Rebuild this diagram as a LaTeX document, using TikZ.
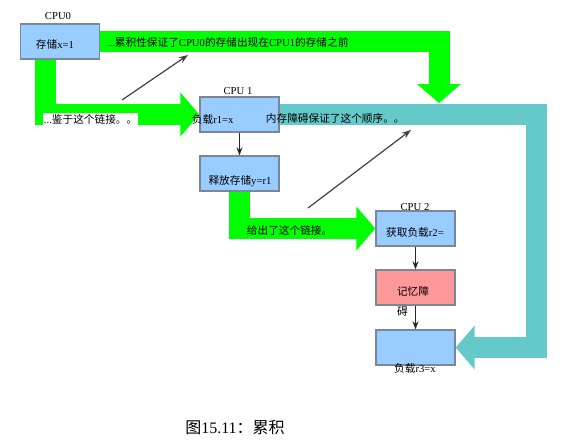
\documentclass[tikz,border=0pt]{standalone}
\usepackage{fontspec}
\setmainfont{Liberation Serif}
\newfontfamily\cjk{Noto Sans CJK SC}
\newcommand{\zh}[1]{{\cjk #1}}
\usetikzlibrary{arrows.meta,calc,backgrounds}
\definecolor{boxblue}{RGB}{153,204,255}
\definecolor{boxpink}{RGB}{255,153,153}
\definecolor{boxline}{RGB}{122,134,154}
\definecolor{lgreen}{RGB}{0,255,0}
\definecolor{lteal}{RGB}{102,201,201}

\begin{document}
\begin{tikzpicture}[x=0.75pt,y=0.75pt,yscale=-1,xscale=1,
  box/.style={draw=boxline,line width=1pt,fill=boxblue,minimum width=59.25pt,minimum height=26.25pt,inner sep=0pt},
  lbl/.style={inner sep=0.5pt,font=\fontsize{8}{15}\selectfont},
  gband/.style={draw=lgreen,line width=15.75pt,line join=miter,-{Triangle[width=32.25pt,length=14.25pt]}},
  tband/.style={draw=lteal,line width=15.75pt,line join=miter,-{Triangle[width=32.25pt,length=14.25pt]}},
  flow/.style={draw=black!85,line width=0.9pt,-{Stealth[length=6pt,width=4.5pt]}},
  link/.style={draw=black!75,line width=0.9pt,-{Stealth[length=7pt,width=5pt]}}]
\useasboundingbox (0,0) rectangle (569,446);

% boxes
\node[box] (c0) at (60,41.5) {};
\node[box] (c1) at (239.5,114.5) {};
\node[box] (rel) at (239.5,173.5) {};
\node[box] (c2) at (415.5,228.5) {};
\node[box,fill=boxpink] (mb) at (415.5,287.5) {};
\node[box] (ld) at (415.5,347.5) {};

% wide bands behind the boxes
\coordinate (g1) at (439,103);
\coordinate (t1) at (536.5,347.5);
\begin{scope}[on background layer]
\draw[gband] (c0.east) -| (g1);
\draw[gband] ($(c0.south)+(-15,0)$) |- (c1.west);
\draw[gband] (rel.south) |- (c2.west);
\draw[tband] (c1.east) -| (t1) -- (ld.east);
\end{scope}

% box arrows
\draw[flow] (c1) -- (rel);
\draw[flow] (c2) -- (mb);
\draw[flow] (mb) -- (ld);

% thin arrows
\coordinate (a0) at (122,100);
\coordinate (a1) at (188,55);
\coordinate (b0) at (308,208);
\coordinate (b1) at (411,130);
\draw[link] (a0) -- (a1);
\draw[link] (b0) -- (b1);

% CPU names
\node[lbl] (n0) at (58,16) {CPU0};
\node[lbl] (n1) at (238,91) {CPU 1};
\node[lbl] (n2) at (415,207) {CPU 2};

% box texts
\node[lbl] (x0) at (55,44) {\zh{存储}x=1};
\node[lbl,anchor=west] (x1) at (191,119) {\zh{负载}r1=x};
\node[lbl] (x2) at (240,181) {\zh{释放存储}y=r1};
\node[lbl] (x3) at (415,232) {\zh{获取负载}r2=};
\node[lbl,align=left] (x4) at (413,301) {\zh{记忆障}\\\zh{碍}};
\node[lbl] (x5) at (415,368) {\zh{负载}r3=x};

% band texts
\node[lbl,anchor=west] (s0) at (106,42) {...\zh{累积性保证了}CPU0\zh{的存储出现在}CPU1\zh{的存储之前}};
\node[lbl,anchor=west,fill=white] (s1) at (43,119) {...\zh{鉴于这个链接。。}};
\node[lbl,anchor=west] (s2) at (265,118) {\zh{内存障碍保证了这个顺序。。}};
\node[lbl,anchor=west] (s3) at (246,230) {\zh{给出了这个链接。}};

% caption
\node[font=\fontsize{12}{14}\selectfont] (cap) at (235,427) {\zh{图}15.11\zh{：累积}};
\end{tikzpicture}
\end{document}
